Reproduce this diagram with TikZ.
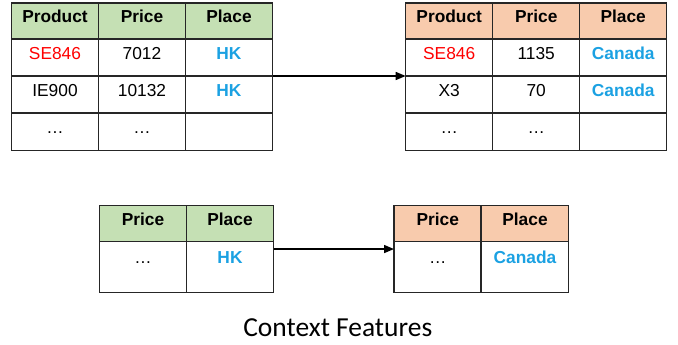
\documentclass[tikz,border=0pt]{standalone}
\usepackage{fontspec}
\setmainfont{Liberation Sans}
\newfontfamily\calib{Carlito}
\usetikzlibrary{arrows.meta}
\definecolor{hdrG}{HTML}{C5E0B4}
\definecolor{hdrO}{HTML}{F8CBAD}
\definecolor{txtRed}{HTML}{FF0000}
\definecolor{txtBlue}{HTML}{1BA1E2}
\tikzset{
  cell/.style={draw=black!85, line width=0.95pt, minimum width=65.25pt, inner sep=0pt, outer sep=0pt, anchor=north west},
  hrow/.style={minimum height=27pt},
  brow/.style={minimum height=27.75pt},
  tallrow/.style={minimum height=38.25pt},
  txt/.style={anchor=base, inner sep=0pt, font=\fontsize{13pt}{15pt}\selectfont},
  hdr/.style={txt, font=\fontsize{13pt}{15pt}\selectfont\bfseries},
  blu/.style={txt, font=\fontsize{13pt}{15pt}\selectfont\bfseries, text=txtBlue},
  red/.style={txt, text=txtRed},
  conn/.style={line width=1.1pt, -{Triangle[length=7.5pt,width=6pt]}},
}
\begin{document}
\begin{tikzpicture}[x=0.75pt,y=-0.75pt]
\useasboundingbox (0,0) rectangle (678,345);
% ---------- top-left table ----------
\node[cell,hrow,fill=hdrG] (a11) at (11.5,3) {};
\node[cell,hrow,fill=hdrG] (a12) at (98.5,3) {};
\node[cell,hrow,fill=hdrG] (a13) at (185.5,3) {};
\node[cell,brow] (a21) at (11.5,39) {};
\node[cell,brow] (a22) at (98.5,39) {};
\node[cell,brow] (a23) at (185.5,39) {};
\node[cell,brow] (a31) at (11.5,76) {};
\node[cell,brow] (a32) at (98.5,76) {};
\node[cell,brow] (a33) at (185.5,76) {};
\node[cell,brow] (a41) at (11.5,113.5) {};
\node[cell,brow] (a42) at (98.5,113.5) {};
\node[cell,brow] (a43) at (185.5,113.5) {};
\node[hdr] (ta11) at (55,22.7) {Product};
\node[hdr] (ta12) at (142,22.7) {Price};
\node[hdr] (ta13) at (229,22.7) {Place};
\node[red] (ta21) at (55,60) {SE846};
\node[txt] (ta22) at (142,60) {7012};
\node[blu] (ta23) at (229,60) {HK};
\node[txt] (ta31) at (55,96.7) {IE900};
\node[txt] (ta32) at (142,96.7) {10132};
\node[blu] (ta33) at (229,96.7) {HK};
\node[txt] (ta41) at (55,134) {\dots};
\node[txt] (ta42) at (142,134) {\dots};
% ---------- top-right table ----------
\node[cell,hrow,fill=hdrO] (b11) at (405.7,3) {};
\node[cell,hrow,fill=hdrO] (b12) at (492.7,3) {};
\node[cell,hrow,fill=hdrO] (b13) at (579.7,3) {};
\node[cell,brow] (b21) at (405.7,39) {};
\node[cell,brow] (b22) at (492.7,39) {};
\node[cell,brow] (b23) at (579.7,39) {};
\node[cell,brow] (b31) at (405.7,76) {};
\node[cell,brow] (b32) at (492.7,76) {};
\node[cell,brow] (b33) at (579.7,76) {};
\node[cell,brow] (b41) at (405.7,113.5) {};
\node[cell,brow] (b42) at (492.7,113.5) {};
\node[cell,brow] (b43) at (579.7,113.5) {};
\node[hdr] (tb11) at (449.2,22.7) {Product};
\node[hdr] (tb12) at (536.2,22.7) {Price};
\node[hdr] (tb13) at (623.2,22.7) {Place};
\node[red] (tb21) at (449.2,60) {SE846};
\node[txt] (tb22) at (536.2,60) {1135};
\node[blu] (tb23) at (623.2,60) {Canada};
\node[txt] (tb31) at (449.2,96.7) {X3};
\node[txt] (tb32) at (536.2,96.7) {70};
\node[blu] (tb33) at (623.2,96.7) {Canada};
\node[txt] (tb41) at (449.2,134) {\dots};
\node[txt] (tb42) at (536.2,134) {\dots};
% ---------- bottom-left table ----------
\node[cell,hrow,fill=hdrG] (c11) at (99.3,205.7) {};
\node[cell,hrow,fill=hdrG] (c12) at (186.5,205.7) {};
\node[cell,tallrow] (c21) at (99.3,241.7) {};
\node[cell,tallrow] (c22) at (186.5,241.7) {};
\node[hdr] (tc11) at (143,225.7) {Price};
\node[hdr] (tc12) at (230,225.7) {Place};
\node[txt] (tc21) at (143,263.3) {\dots};
\node[blu] (tc22) at (230,263.3) {HK};
% ---------- bottom-right table ----------
\node[cell,hrow,fill=hdrO] (d11) at (394,205.7) {};
\node[cell,hrow,fill=hdrO] (d12) at (481.3,205.7) {};
\node[cell,tallrow] (d21) at (394,241.7) {};
\node[cell,tallrow] (d22) at (481.3,241.7) {};
\node[hdr] (td11) at (437.7,225.7) {Price};
\node[hdr] (td12) at (525,225.7) {Place};
\node[txt] (td21) at (437.7,263.3) {\dots};
\node[blu] (td22) at (525,263.3) {Canada};
% ---------- connectors ----------
\draw[conn] (a23.south east) -- (b21.south west);
\draw[conn] ([yshift=-5.5pt]c22.north east) -- ([yshift=-5.5pt]d21.north west);
% ---------- caption ----------
\node[anchor=base, inner sep=0pt, font=\calib\fontsize{20.6pt}{24pt}\selectfont] (cap) at (337.8,336.7) {Context Features};
\end{tikzpicture}
\end{document}
